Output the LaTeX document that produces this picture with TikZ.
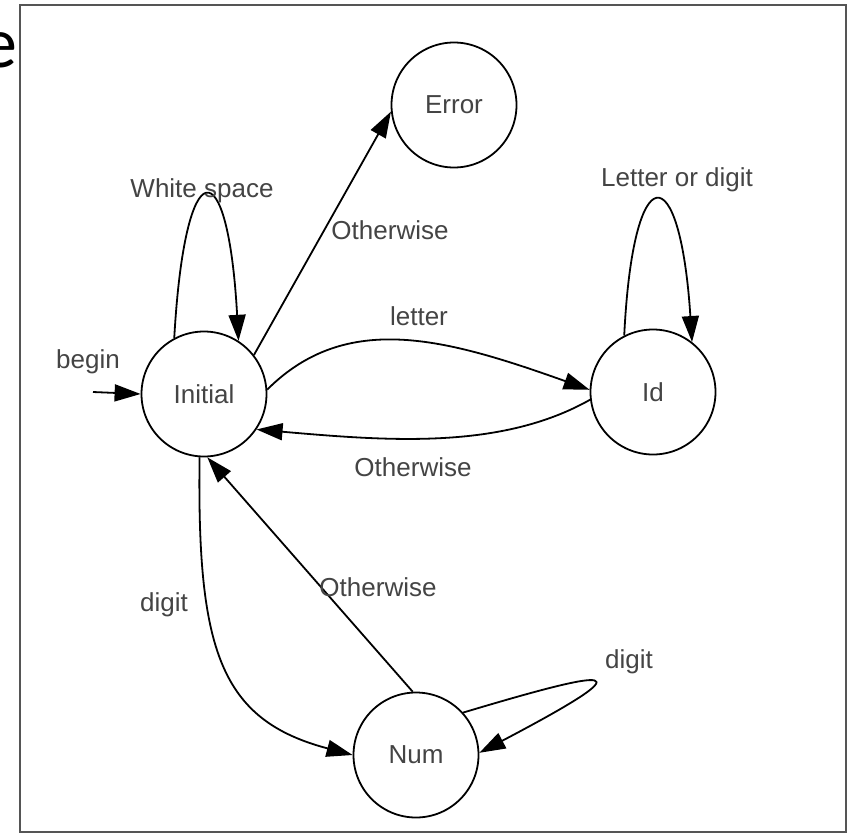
\documentclass[tikz,border=0pt]{standalone}
\usepackage{fontspec}
\setmainfont{Liberation Sans}
\newfontfamily\carlito{Carlito}
\usetikzlibrary{arrows.meta}
\definecolor{textgray}{HTML}{444444}
\definecolor{framegray}{HTML}{555555}
\begin{document}
\begin{tikzpicture}[x=1pt,y=-1pt,
  state/.style={circle, draw=black, line width=1.8pt, minimum size=125pt, inner sep=0pt, text=textgray, font=\fontsize{26}{30}\selectfont},
  lbl/.style={text=textgray, font=\fontsize{26}{30}\selectfont, inner sep=0pt},
  edge/.style={line width=1.8pt, -{Triangle[length=26pt,width=17pt]}},
]
\useasboundingbox (0,0) rectangle (850,835);
\fill[white] (0,0) rectangle (850,835);
\draw[framegray, line width=2pt] (20,5) rectangle (846,832);
\node[anchor=base east, inner sep=0pt, text=black, font=\carlito\fontsize{72}{80}\selectfont] (ecut) at (18,67) {e};

\node[state] (E) at (454,105) {Error};
\node[state] (I) at (204,394) {Initial};
\node[state] (D) at (653,392) {Id};
\node[state] (N) at (416,755) {Num};

\coordinate (b) at (93,392);
\draw[edge] (b) -- (I.180);
\draw[edge] (I.118) .. controls (185,148) and (228,148) .. (I.57);
\draw[edge] (I.38) -- (E.186);
\draw[edge] (I.4) .. controls (347,310) and (447,339) .. (D.178);
\draw[edge] (D.187) .. controls (501,450) and (388,441) .. (I.-34);
\draw[edge] (D.117) .. controls (633,155) and (680,155) .. (D.52);
\draw[edge] (I.-94) .. controls (197,650) and (220,720) .. (N.180);
\draw[edge] (N.93) -- (I.-87);
\draw[edge] (N.42) .. controls (612,668) and (652,662) .. (N.2);

\node[lbl] (lws) at (202,191) {White space};
\node[lbl] (loe) at (390,230) {Otherwise};
\node[lbl] (llet) at (419,316) {letter};
\node[lbl] (loi) at (413,467) {Otherwise};
\node[lbl] (llod) at (677,180) {Letter or digit};
\node[lbl] (lbeg) at (88,362) {begin};
\node[lbl] (ldg1) at (164,605) {digit};
\node[lbl] (lon) at (378,587) {Otherwise};
\node[lbl] (ldg2) at (629,662) {digit};
\end{tikzpicture}
\end{document}
